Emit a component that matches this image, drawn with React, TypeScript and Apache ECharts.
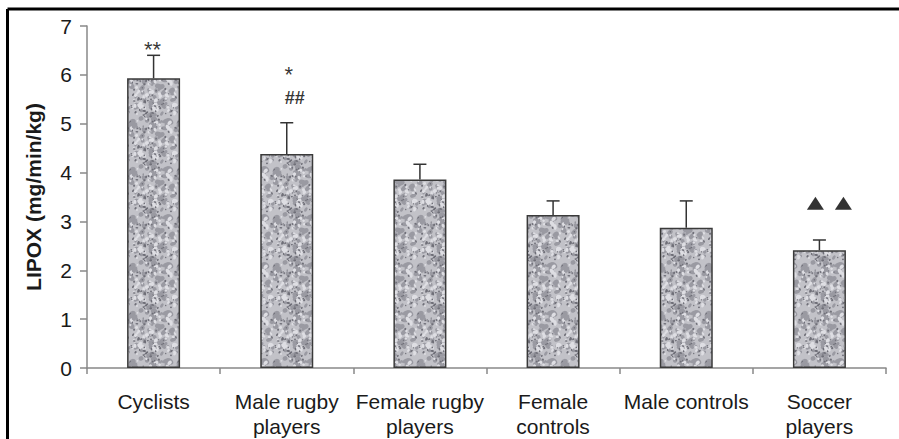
import React, { useEffect, useRef } from "react";
import * as echarts from "echarts";

const categories = [
  "Cyclists",
  "Male rugby\nplayers",
  "Female rugby\nplayers",
  "Female\ncontrols",
  "Male controls",
  "Soccer\nplayers",
];
const means = [5.93, 4.38, 3.86, 3.13, 2.87, 2.41];
const errors = [0.47, 0.64, 0.31, 0.29, 0.55, 0.21];
const yTicks = [0, 1, 2, 3, 4, 5, 6, 7];

const annotationCats = [0, 1, 1];
const annotationValues = [6.55, 6.02, 5.52];
const annotationTexts = ["**", "*", "##"];
const annotationOffsets = [[-1, 2], [2, 1], [8, 0]];

const triangleCat = 5;
const triangleValue = 3.37;

function makeSpeckle(): HTMLCanvasElement {
  const c = document.createElement("canvas");
  c.width = 48;
  c.height = 48;
  const ctx = c.getContext("2d")!;
  ctx.fillStyle = "#c2c2c8";
  ctx.fillRect(0, 0, 48, 48);
  let s = 987654;
  const rnd = () => {
    s = (s * 1103515245 + 12345) & 0x7fffffff;
    return s / 0x7fffffff;
  };
  const blot = (n: number, color: string, rMin: number, rMax: number) => {
    ctx.fillStyle = color;
    for (let i = 0; i < n; i++) {
      const x = rnd() * 48;
      const y = rnd() * 48;
      const r = rMin + rnd() * (rMax - rMin);
      for (const dx of [-48, 0, 48]) {
        for (const dy of [-48, 0, 48]) {
          ctx.beginPath();
          ctx.ellipse(x + dx, y + dy, r * (1 + rnd() * 0.8), r, rnd() * Math.PI, 0, Math.PI * 2);
          ctx.fill();
        }
      }
    }
  };
  blot(70, "#9a9aa2", 1.2, 2.6);
  blot(60, "#dedee3", 0.8, 1.8);
  blot(70, "#6f6f78", 0.5, 1.1);
  return c;
}

export default function App() {
  const ref = useRef<HTMLDivElement>(null);
  useEffect(() => {
    if (!ref.current) return;
    const chart = echarts.init(ref.current, null, { renderer: "svg" });
    const pattern = makeSpeckle();
    const font = "'Liberation Sans', Arial, sans-serif";
    chart.setOption({
      animation: false,
      backgroundColor: "#ffffff",
      grid: { left: 87, right: 13, top: 26, bottom: 71 },
      xAxis: {
        type: "category",
        data: categories,
        axisLine: { lineStyle: { color: "#888888", width: 1.5 } },
        axisTick: { show: true, length: 6, lineStyle: { color: "#888888", width: 1.5 } },
        axisLabel: {
          color: "#1a1a1a",
          fontSize: 21,
          fontFamily: font,
          lineHeight: 25,
          margin: 21,
          interval: 0,
        },
      },
      yAxis: {
        type: "value",
        min: 0,
        max: 7,
        interval: 1,
        name: "LIPOX (mg/min/kg)",
        nameLocation: "middle",
        nameGap: 43,
        nameTextStyle: { color: "#1a1a1a", fontSize: 21, fontWeight: "bold", fontFamily: font },
        axisLine: { show: true, lineStyle: { color: "#888888", width: 1.5 } },
        axisTick: { show: true, length: 7, lineStyle: { color: "#888888", width: 1.5 } },
        splitLine: { show: false },
        axisLabel: {
          color: "#1a1a1a",
          fontSize: 21,
          fontFamily: font,
          margin: 15,
          formatter: (v: number) => (yTicks.includes(v) ? String(v) : ""),
        },
      },
      series: [
        {
          type: "bar",
          data: means,
          barWidth: 53,
          itemStyle: {
            color: { image: pattern, repeat: "repeat" } as any,
            borderColor: "#3a3a3a",
            borderWidth: 1.5,
          },
          z: 2,
        },
        {
          type: "custom",
          z: 3,
          data: means.map((m, i) => [i, m, m + errors[i]]),
          renderItem: (params: any, api: any) => {
            const i = api.value(0);
            const p0 = api.coord([i, api.value(1)]);
            const p1 = api.coord([i, api.value(2)]);
            const cap = 6.5;
            return {
              type: "group",
              children: [
                {
                  type: "line",
                  shape: { x1: p0[0], y1: p0[1], x2: p1[0], y2: p1[1] },
                  style: { stroke: "#333333", lineWidth: 1.5 },
                },
                {
                  type: "line",
                  shape: { x1: p1[0] - cap, y1: p1[1], x2: p1[0] + cap, y2: p1[1] },
                  style: { stroke: "#333333", lineWidth: 1.5 },
                },
              ],
            };
          },
        },
        {
          type: "scatter",
          symbolSize: 0,
          z: 4,
          data: annotationCats.map((c, i) => {
            const isHash = annotationTexts[i] === "##";
            return {
              value: [c, annotationValues[i]],
              label: {
                show: true,
                position: "inside",
                formatter: annotationTexts[i],
                offset: annotationOffsets[i],
                color: "#000000",
                fontFamily: font,
                fontSize: isHash ? 18 : 22,
                fontWeight: isHash ? "bold" : "normal",
              },
            };
          }),
        },
        {
          type: "scatter",
          symbol: "triangle",
          symbolSize: [17, 13],
          z: 4,
          itemStyle: { color: "#000000" },
          data: [
            { value: [triangleCat, triangleValue], symbolOffset: [-4, 0] },
            { value: [triangleCat, triangleValue], symbolOffset: [24, 0] },
          ],
        },
      ],
      graphic: [
        { type: "line", shape: { x1: 7.5, y1: 9, x2: 899, y2: 9 }, style: { stroke: "#000000", lineWidth: 3 } },
        { type: "line", shape: { x1: 7.5, y1: 9, x2: 7.5, y2: 439 }, style: { stroke: "#000000", lineWidth: 3 } },
      ],
    });
    return () => chart.dispose();
  }, []);
  return (
    <div
      ref={ref}
      style={{ position: "fixed", left: 0, top: 0, width: 899, height: 439 }}
    />
  );
}
